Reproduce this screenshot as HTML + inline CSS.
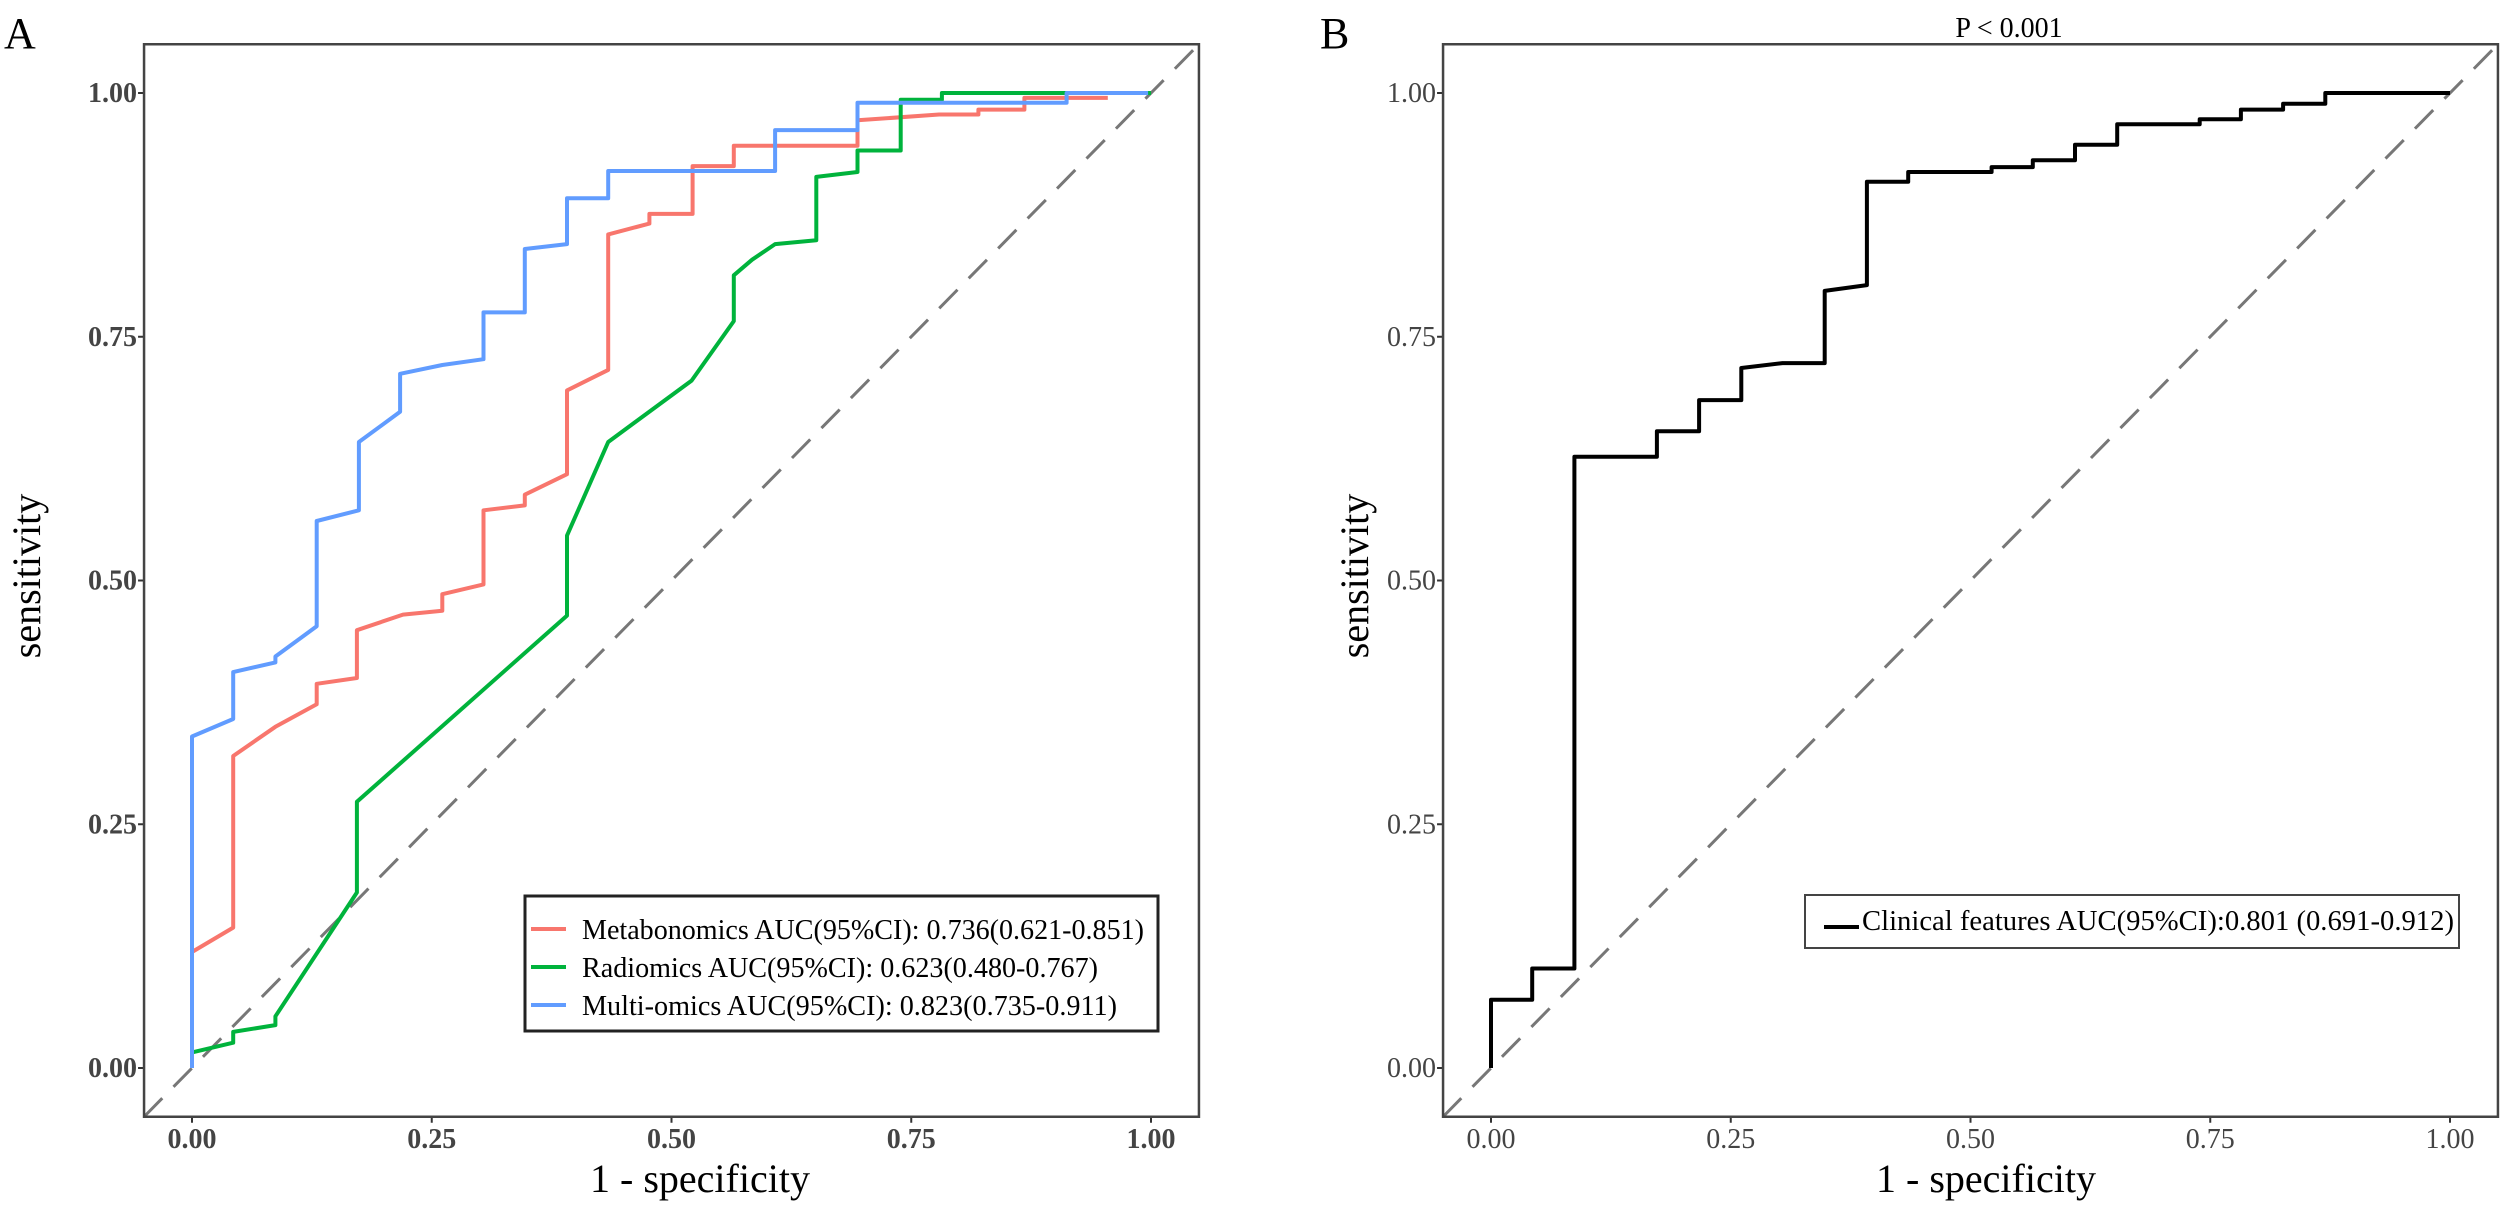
<!DOCTYPE html>
<html><head><meta charset="utf-8"><style>
html,body{margin:0;padding:0;background:#fff;}
svg{display:block;font-family:"Liberation Serif",serif;}
</style></head><body>
<svg id="chart" width="2508" height="1218" viewBox="0 0 2508 1218" xmlns="http://www.w3.org/2000/svg">
<text x="4" y="48" font-size="44">A</text>
<text x="1320" y="48" font-size="44">B</text>
<text x="2009" y="37" font-size="28" text-anchor="middle">P &lt; 0.001</text>
<g id="gA"></g>
<g id="gB"></g>
</svg>
<script>
const ticks=[0,0.25,0.5,0.75,1];
const tickLabels=["0.00","0.25","0.50","0.75","1.00"];
const metaX=[0,0,0.043,0.043,0.087,0.13,0.13,0.172,0.172,0.22,0.261,0.261,0.304,0.304,0.347,0.347,0.391,0.391,0.434,0.434,0.477,0.477,0.522,0.522,0.565,0.565,0.694,0.694,0.779,0.82,0.82,0.868,0.868,0.955];
const metaY=[0,0.119,0.144,0.32,0.35,0.373,0.394,0.40,0.449,0.465,0.469,0.486,0.496,0.572,0.577,0.588,0.609,0.695,0.716,0.855,0.866,0.876,0.876,0.925,0.925,0.946,0.946,0.972,0.978,0.978,0.983,0.983,0.995,0.995];
const radX=[0,0,0.043,0.043,0.087,0.087,0.172,0.172,0.391,0.391,0.434,0.521,0.565,0.565,0.584,0.608,0.651,0.651,0.694,0.694,0.739,0.739,0.782,0.782,1.0];
const radY=[0,0.016,0.026,0.037,0.044,0.053,0.18,0.273,0.464,0.546,0.642,0.705,0.766,0.813,0.829,0.845,0.849,0.914,0.919,0.941,0.941,0.993,0.993,1.0,1.0];
const multiX=[0,0,0.043,0.043,0.087,0.087,0.13,0.13,0.174,0.174,0.217,0.217,0.261,0.304,0.304,0.347,0.347,0.391,0.391,0.434,0.434,0.608,0.608,0.694,0.694,0.912,0.912,0.997];
const multiY=[0,0.34,0.358,0.406,0.416,0.422,0.453,0.561,0.572,0.642,0.673,0.712,0.721,0.727,0.775,0.775,0.84,0.845,0.892,0.892,0.92,0.92,0.962,0.962,0.99,0.99,1.0,1.0];
const clinX=[0,0,0.043,0.043,0.087,0.087,0.173,0.173,0.217,0.217,0.261,0.261,0.304,0.348,0.348,0.392,0.392,0.435,0.435,0.522,0.522,0.565,0.565,0.609,0.609,0.653,0.653,0.739,0.739,0.782,0.782,0.826,0.826,0.870,0.870,1.0];
const clinY=[0,0.07,0.07,0.102,0.102,0.627,0.627,0.653,0.653,0.685,0.685,0.718,0.723,0.723,0.797,0.803,0.909,0.909,0.919,0.919,0.924,0.924,0.931,0.931,0.947,0.947,0.968,0.968,0.973,0.973,0.983,0.983,0.989,0.989,1.0,1.0];

const NS="http://www.w3.org/2000/svg";
function mk(parent,tag,attrs){const e=document.createElementNS(NS,tag);for(const k in attrs)e.setAttribute(k,attrs[k]);parent.appendChild(e);return e;}
const panels={A:{x0:192,unit:959,bold:true},B:{x0:1491,unit:959,bold:false}};
const Y0=1068,YU=975;
function sx(p,v){return panels[p].x0+v*panels[p].unit;}
function sy(v){return Y0-v*YU;}
function pts(p,xs,ys){return xs.map((x,i)=>sx(p,x).toFixed(1)+","+sy(ys[i]).toFixed(1)).join(" ");}

function drawPanel(p,g){
  const L=sx(p,-0.05),R=sx(p,1.05),T=sy(1.05),B=sy(-0.05);
  const fw=panels[p].bold?"bold":"normal";
  const diag=mk(g,"line",{x1:L,y1:B,x2:R,y2:T,stroke:"#777",["stroke-width"]:3,["stroke-dasharray"]:"26,16"});
  
  
  ticks.forEach((t,i)=>{
    const tx=mk(g,"line",{x1:sx(p,t),x2:sx(p,t),y1:B,y2:B+6,stroke:"#333",["stroke-width"]:2});
    
    
    const lx=mk(g,"text",{x:sx(p,t),y:1148,["text-anchor"]:"middle",["font-size"]:28,["font-weight"]:fw,fill:"#444"});
    lx.textContent=tickLabels[i];
    
    
    const ty=mk(g,"line",{x1:L-6,x2:L,y1:sy(t),y2:sy(t),stroke:"#333",["stroke-width"]:2});
    
    
    const ly=mk(g,"text",{x:L-7,y:sy(t)+9,["text-anchor"]:"end",["font-size"]:28,["font-weight"]:fw,fill:"#444"});
    ly.textContent=tickLabels[i];
    
    
  });
  const xt=mk(g,"text",{x:p==="A"?700:1986,y:1192,["text-anchor"]:"middle",["font-size"]:40});
  xt.textContent="1 - specificity";
  
  
  const yx=p==="A"?40:1368;
  const yt=mk(g,"text",{x:yx,y:576,["text-anchor"]:"middle",["font-size"]:40,transform:`rotate(-90 ${yx} 576)`});
  yt.textContent="sensitivity";
  
  
  return {L,R,T,B};
}
function drawFrame(g,b){
  const f=mk(g,"rect",{x:b.L,y:b.T,width:b.R-b.L,height:b.B-b.T,fill:"none",stroke:"#444",["stroke-width"]:2.5});
  
  
}
const gA=document.getElementById("gA"),gB=document.getElementById("gB");
const bA=drawPanel("A",gA);
const series=[["metabonomics-curve",metaX,metaY,"#F8766D"],["radiomics-curve",radX,radY,"#00B33C"],["multi-omics-curve",multiX,multiY,"#619CFF"]];
series.forEach(s=>{
  const l=mk(gA,"polyline",{points:pts("A",s[1],s[2]),fill:"none",stroke:s[3],["stroke-width"]:4,["stroke-linejoin"]:"round"});
  
  
});
drawFrame(gA,bA);
const legA=mk(gA,"g",{});


mk(legA,"rect",{x:525,y:896,width:633,height:135,fill:"#fff",stroke:"#222",["stroke-width"]:3});
const legTexts=["Metabonomics AUC(95%CI): 0.736(0.621-0.851)","Radiomics AUC(95%CI): 0.623(0.480-0.767)","Multi-omics AUC(95%CI): 0.823(0.735-0.911)"];
const legW=[562,516,535];
series.forEach((s,i)=>{
  const yy=929+i*38;
  const k=mk(legA,"line",{x1:531,x2:566,y1:yy,y2:yy,stroke:s[3],["stroke-width"]:4});
  
  
  const t=mk(legA,"text",{x:582,y:yy+10,["font-size"]:29,textLength:legW[i],lengthAdjust:"spacingAndGlyphs"});
  t.textContent=legTexts[i];
  
  
});
const bB=drawPanel("B",gB);
const cl=mk(gB,"polyline",{points:pts("B",clinX,clinY),fill:"none",stroke:"#000",["stroke-width"]:4,["stroke-linejoin"]:"round"});


drawFrame(gB,bB);
const legB=mk(gB,"g",{});


mk(legB,"rect",{x:1805,y:895,width:654,height:53,fill:"#fff",stroke:"#444",["stroke-width"]:2});
const kb=mk(legB,"line",{x1:1824,x2:1859,y1:927,y2:927,stroke:"#000",["stroke-width"]:4});


const tb=mk(legB,"text",{x:1862,y:930,["font-size"]:29,textLength:592,lengthAdjust:"spacingAndGlyphs"});
tb.textContent="Clinical features AUC(95%CI):0.801 (0.691-0.912)";


</script>
</body></html>
